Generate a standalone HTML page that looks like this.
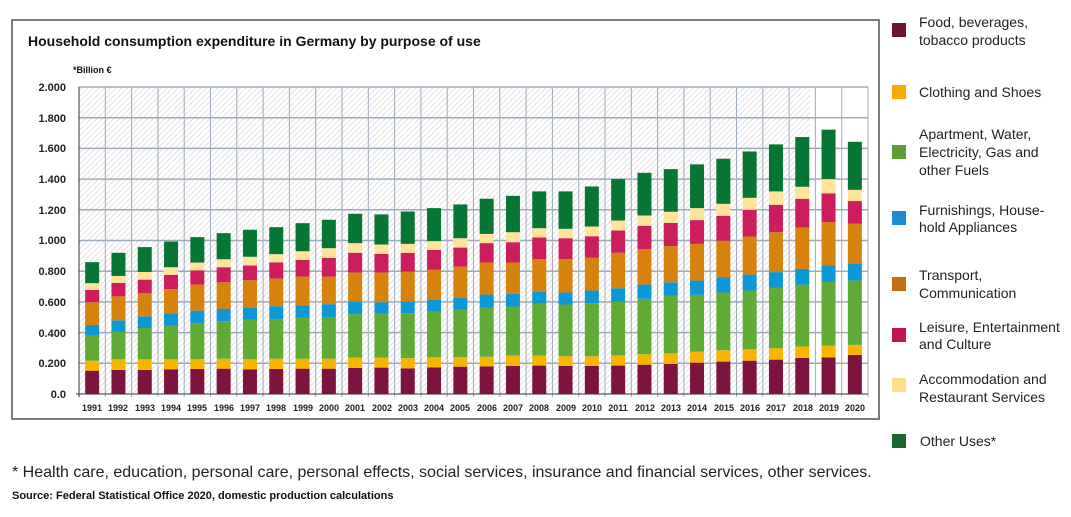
<!DOCTYPE html>
<html><head><meta charset="utf-8"><style>
body{margin:0;background:#fff;width:1071px;height:512px;overflow:hidden;font-family:"Liberation Sans",sans-serif;}
</style></head><body>
<svg width="1071" height="512" xmlns="http://www.w3.org/2000/svg" font-family="Liberation Sans, sans-serif">
<defs>
<pattern id="h" width="4" height="4" patternUnits="userSpaceOnUse" patternTransform="rotate(45)">
<rect width="4" height="4" fill="#fff"/><line x1="0" y1="0" x2="0" y2="4" stroke="#cfcfcf" stroke-width="1.2"/>
</pattern>
</defs>
<rect x="12" y="20" width="867" height="399" fill="#fff" stroke="#7a7a7a" stroke-width="2"/>
<text x="28" y="46" font-size="14" font-weight="bold" fill="#111">Household consumption expenditure in Germany by purpose of use</text>
<text x="73" y="73" font-size="9" font-weight="bold" fill="#111">*Billion €</text>
<rect x="79" y="87" width="731" height="307" fill="url(#h)"/>
<g id="grid" stroke="#9eabbb" stroke-width="1.5"></g>
<g id="bars"></g>
<line x1="79" y1="87" x2="79" y2="397" stroke="#333" stroke-width="1"/>
<line x1="76" y1="394" x2="868" y2="394" stroke="#333" stroke-width="1"/>
<g font-size="11" font-weight="bold" fill="#222" text-anchor="end">
<text x="66" y="398">0.0</text><text x="66" y="367">0.200</text><text x="66" y="337">0.400</text><text x="66" y="306">0.600</text><text x="66" y="275">0.800</text><text x="66" y="244">1.000</text><text x="66" y="214">1.200</text><text x="66" y="183">1.400</text><text x="66" y="152">1.600</text><text x="66" y="122">1.800</text><text x="66" y="91">2.000</text>
</g>
<g font-size="9" font-weight="bold" fill="#222" text-anchor="middle">
<text x="92" y="411">1991</text><text x="118" y="411">1992</text><text x="145" y="411">1993</text><text x="171" y="411">1994</text><text x="197" y="411">1995</text><text x="224" y="411">1996</text><text x="250" y="411">1997</text><text x="276" y="411">1998</text><text x="303" y="411">1999</text><text x="329" y="411">2000</text><text x="355" y="411">2001</text><text x="382" y="411">2002</text><text x="408" y="411">2003</text><text x="434" y="411">2004</text><text x="460" y="411">2005</text><text x="487" y="411">2006</text><text x="513" y="411">2007</text><text x="539" y="411">2008</text><text x="566" y="411">2009</text><text x="592" y="411">2010</text><text x="618" y="411">2011</text><text x="645" y="411">2012</text><text x="671" y="411">2013</text><text x="697" y="411">2014</text><text x="724" y="411">2015</text><text x="750" y="411">2016</text><text x="776" y="411">2017</text><text x="803" y="411">2018</text><text x="829" y="411">2019</text><text x="855" y="411">2020</text>
</g>
<g font-size="14" fill="#222">
<rect x="892" y="23" width="14" height="14" fill="#6e1236"/><text x="919" y="27">Food, beverages,</text><text x="919" y="45">tobacco products</text>
<rect x="892" y="85" width="14" height="14" fill="#f5ac00"/><text x="919" y="97">Clothing and Shoes</text>
<rect x="892" y="145" width="14" height="14" fill="#5a9e32"/><text x="919" y="139">Apartment, Water,</text><text x="919" y="157">Electricity, Gas and</text><text x="919" y="175">other Fuels</text>
<rect x="892" y="211" width="14" height="14" fill="#1e8bce"/><text x="919" y="215">Furnishings, House-</text><text x="919" y="232">hold Appliances</text>
<rect x="892" y="277" width="14" height="14" fill="#c86d15"/><text x="919" y="280">Transport,</text><text x="919" y="298">Communication</text>
<rect x="892" y="328" width="14" height="14" fill="#be1550"/><text x="919" y="332">Leisure, Entertainment</text><text x="919" y="349">and Culture</text>
<rect x="892" y="378" width="14" height="14" fill="#ffde86"/><text x="919" y="384">Accommodation and</text><text x="919" y="402">Restaurant Services</text>
<rect x="892" y="434" width="14" height="14" fill="#1c6630"/><text x="920" y="446">Other Uses*</text>
</g>
<text x="12" y="477" font-size="16" fill="#222">* Health care, education, personal care, personal effects, social services, insurance and financial services, other services.</text>
<text x="12" y="499" font-size="11" font-weight="bold" fill="#111">Source: Federal Statistical Office 2020, domestic production calculations</text>
</svg>
<script>
var d=[[152,217,380,450,598,678,722,859],[157,226,407,480,636,724,769,920],[157,226,430,506,656,745,795,957],[161,226,446,526,683,776,826,993],[163,228,463,543,713,806,856,1022],[165,230,474,554,728,826,878,1048],[161,228,483,563,741,837,894,1070],[163,230,489,572,752,858,911,1087],[165,230,496,576,765,874,930,1113],[165,230,502,585,765,887,950,1135],[170,237,520,602,791,920,983,1174],[172,237,522,598,791,913,974,1170],[167,233,526,604,798,920,978,1189],[174,239,537,615,811,939,996,1211],[178,241,548,628,830,954,1015,1235],[180,243,563,648,857,983,1043,1272],[183,250,570,652,857,989,1054,1291],[185,250,587,667,878,1020,1080,1320],[183,246,583,661,878,1015,1076,1320],[183,246,591,674,887,1028,1091,1352],[185,252,602,689,920,1065,1130,1400],[191,259,620,713,943,1096,1163,1441],[196,265,639,728,963,1115,1187,1465],[204,276,646,739,978,1133,1211,1496],[211,285,661,759,998,1161,1239,1533],[217,291,674,778,1026,1200,1278,1580],[224,298,691,794,1054,1233,1320,1626],[235,309,713,815,1085,1272,1350,1674],[239,315,730,837,1120,1307,1400,1722],[254,320,739,852,1109,1257,1330,1643]];
var c=["#7e1340","#f7b500","#5fab35","#0c97d6","#d6820c","#cc1d5c","#ffe39a","#077634"];
var ns="http://www.w3.org/2000/svg",g=document.getElementById("grid"),b=document.getElementById("bars");
function Y(v){return 394-v*0.1535;}
for(var i=1;i<=10;i++){var l=document.createElementNS(ns,"line");l.setAttribute("x1",79);l.setAttribute("x2",868);l.setAttribute("y1",Y(i*200));l.setAttribute("y2",Y(i*200));g.appendChild(l);}
for(var i=1;i<=30;i++){var x=79+26.3*i;var l=document.createElementNS(ns,"line");l.setAttribute("x1",x);l.setAttribute("x2",x);l.setAttribute("y1",87);l.setAttribute("y2",397);l.setAttribute("stroke-width",1);g.appendChild(l);}
d.forEach(function(r,i){var cx=79+26.3*(i+0.5),p=0;r.forEach(function(v,k){var e=document.createElementNS(ns,"rect");e.setAttribute("x",cx-7);e.setAttribute("width",14);e.setAttribute("y",Y(v));e.setAttribute("height",Y(p)-Y(v));e.setAttribute("fill",c[k]);b.appendChild(e);p=v;});});
</script>
</body></html>
